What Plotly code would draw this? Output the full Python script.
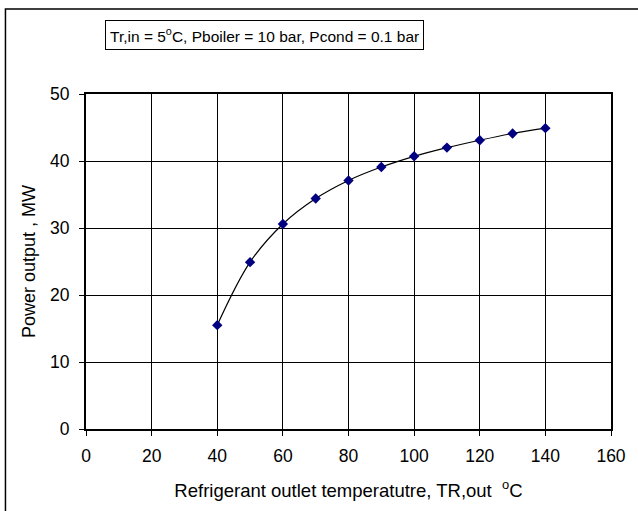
import plotly.graph_objects as go

temps = [40, 50, 60, 70, 80, 90, 100, 110, 120, 130, 140]
power = [15.5, 24.9, 30.6, 34.4, 37.1, 39.1, 40.7, 42.0, 43.1, 44.1, 44.9]
x_ticks = [0, 20, 40, 60, 80, 100, 120, 140, 160]
y_ticks = [0, 10, 20, 30, 40, 50]

FONT = "Liberation Sans, Arial, sans-serif"

fig = go.Figure()
fig.add_trace(go.Scatter(
    x=temps, y=power, mode="lines+markers",
    line=dict(color="black", width=1.2, shape="spline", smoothing=1.0),
    marker=dict(symbol="diamond", size=8, color="#000080"),
    showlegend=False,
))

fig.update_layout(
    width=638, height=511,
    margin=dict(l=86, r=24, t=94, b=82),
    paper_bgcolor="white", plot_bgcolor="white",
    font=dict(family=FONT, color="black", size=17),
    xaxis=dict(
        range=[0, 160], tickvals=x_ticks, showgrid=True, gridcolor="black", gridwidth=1,
        showline=True, linecolor="black", linewidth=2, mirror=True,
        ticks="outside", ticklen=5, tickcolor="black", zeroline=False,
        tickfont=dict(size=17.5), ticklabelstandoff=5,
        title=dict(text="Refrigerant outlet temperatutre, TR,out  <sup>o</sup>C",
                   font=dict(size=18.5), standoff=19),
    ),
    yaxis=dict(
        range=[0, 50], tickvals=y_ticks, showgrid=True, gridcolor="black", gridwidth=1,
        showline=True, linecolor="black", linewidth=2, mirror=True,
        ticks="outside", ticklen=5, tickcolor="black", zeroline=False,
        tickfont=dict(size=17.5), ticklabelstandoff=6,
        title=dict(text="Power output , MW", font=dict(size=18), standoff=10),
    ),
    shapes=[
        dict(type="rect", xref="paper", yref="paper",
             x0=(5 - 86) / 528, x1=(645 - 86) / 528,
             y0=(429 - 520) / 335, y1=(429 - 9) / 335,
             line=dict(color="black", width=1.5), fillcolor="rgba(0,0,0,0)", layer="below"),
    ],
    annotations=[
        dict(text="Tr,in = 5<sup>o</sup>C, Pboiler = 10 bar, Pcond = 0.1 bar",
             xref="paper", yref="paper",
             x=(266 - 86) / 528, y=(429 - 34.5) / 335,
             xanchor="center", yanchor="middle", showarrow=False,
             font=dict(size=15.5, family=FONT, color="black"),
             bordercolor="black", borderwidth=1, borderpad=4, bgcolor="white"),
    ],
)

fig.write_html("out.html")
